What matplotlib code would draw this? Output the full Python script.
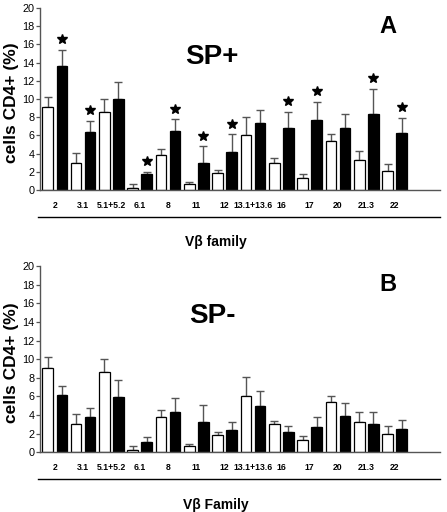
import numpy as np
import matplotlib
matplotlib.use('Agg')
from matplotlib import pyplot as plt

plt.rcParams['font.family'] = ['Liberation Sans', 'DejaVu Sans']

families = ['2', '3.1', '5.1+5.2', '6.1', '8', '11', '12', '13.1+13.6',
            '16', '17', '20', '21.3', '22']

# panel A (SP+)
a_white = [9.15, 3.0, 8.6, 0.25, 3.9, 0.7, 1.9, 6.0, 3.0, 1.3, 5.4, 3.35, 2.1]
a_white_sem = [1.05, 1.1, 1.4, 0.4, 0.6, 0.2, 0.3, 2.05, 0.5, 0.45, 0.7, 0.95, 0.8]
a_black = [13.6, 6.4, 10.0, 1.75, 6.5, 3.0, 4.2, 7.4, 6.8, 7.7, 6.8, 8.35, 6.25]
a_black_sem = [1.8, 1.2, 1.9, 0.25, 1.3, 1.8, 1.95, 1.4, 1.8, 2.0, 1.5, 2.8, 1.7]
a_signif = [1, 1, 0, 1, 1, 1, 1, 0, 1, 1, 0, 1, 1]

# panel B (SP-)
b_white = [9.1, 3.0, 8.6, 0.3, 3.8, 0.7, 1.85, 6.07, 3.0, 1.3, 5.45, 3.25, 2.0]
b_white_sem = [1.1, 1.1, 1.4, 0.38, 0.7, 0.2, 0.35, 2.0, 0.35, 0.45, 0.62, 1.1, 0.8]
b_black = [6.15, 3.8, 5.9, 1.1, 4.3, 3.2, 2.4, 5.0, 2.2, 2.7, 3.95, 3.05, 2.45]
b_black_sem = [0.95, 1.0, 1.9, 0.5, 1.5, 1.87, 0.8, 1.6, 0.65, 1.05, 1.3, 1.3, 1.05]
b_signif = [0] * 13

W, H = 447, 512
fig = plt.figure(figsize=(W / 100, H / 100), dpi=100)

GRAY = '#555555'


def draw_panel(rect, white, white_sem, black, black_sem, signif, title, letter, xlabel, line_y):
    ax = fig.add_axes(rect)
    x = np.arange(len(families))
    off, bw = 0.2475, 0.37
    ax.bar(x - off, white, bw, color='white', edgecolor='black', linewidth=0.9, zorder=2)
    ax.bar(x + off, black, bw, color='black', edgecolor='black', linewidth=0.9, zorder=2)
    ax.errorbar(x - off, white, yerr=[np.zeros(len(x)), white_sem], fmt='none',
                ecolor=GRAY, elinewidth=1.0, capsize=3, capthick=1.0, zorder=1)
    ax.errorbar(x + off, black, yerr=[np.zeros(len(x)), black_sem], fmt='none',
                ecolor=GRAY, elinewidth=1.0, capsize=3, capthick=1.0, zorder=1)
    for xi, m, s, sig in zip(x, black, black_sem, signif):
        if sig:
            ax.plot(xi + off, m + s + 1.15, marker='*', color='black', markersize=7.5,
                    linestyle='none', clip_on=False)

    ax.set_xlim(-0.52, 13.6)
    ax.set_ylim(0, 20)
    ax.set_yticks(range(0, 21, 2))
    ax.set_xticks(x)
    ax.set_xticklabels(families, fontsize=6.2, fontweight='bold')
    ax.tick_params(axis='x', length=0, pad=8)
    ax.tick_params(axis='y', length=3, width=0.9, color=GRAY, pad=1, labelsize=7.8)
    for side in ['top', 'right']:
        ax.spines[side].set_visible(False)
    for side in ['left', 'bottom']:
        ax.spines[side].set_color(GRAY)
        ax.spines[side].set_linewidth(1.0)

    ax.set_ylabel('cells CD4+ (%)', fontsize=12.5, fontweight='bold', va='center')
    ax.yaxis.set_label_coords(-0.07, 0.48)
    ax.plot([-0.005, 1.0], [line_y, line_y], color='black', linewidth=1.0,
            transform=ax.transAxes, clip_on=False)
    ax.text(0.44, line_y - 0.14, xlabel, transform=ax.transAxes, ha='center', va='center',
            fontsize=10, fontweight='bold')
    ax.text(0.43, 0.73, title, transform=ax.transAxes, ha='center', va='center',
            fontsize=20, fontweight='bold')
    ax.text(0.87, 0.9, letter, transform=ax.transAxes, ha='center', va='center',
            fontsize=17, fontweight='bold')
    return ax


draw_panel([40 / W, 1 - 190 / H, 400 / W, 182 / H], a_white, a_white_sem, a_black, a_black_sem,
           a_signif, 'SP+', 'A', 'Vβ family', -0.148)
draw_panel([40 / W, 1 - 452.3 / H, 400 / W, 186.3 / H], b_white, b_white_sem, b_black, b_black_sem,
           b_signif, 'SP-', 'B', 'Vβ Family', -0.143)

fig.savefig('out.png', dpi=100)
